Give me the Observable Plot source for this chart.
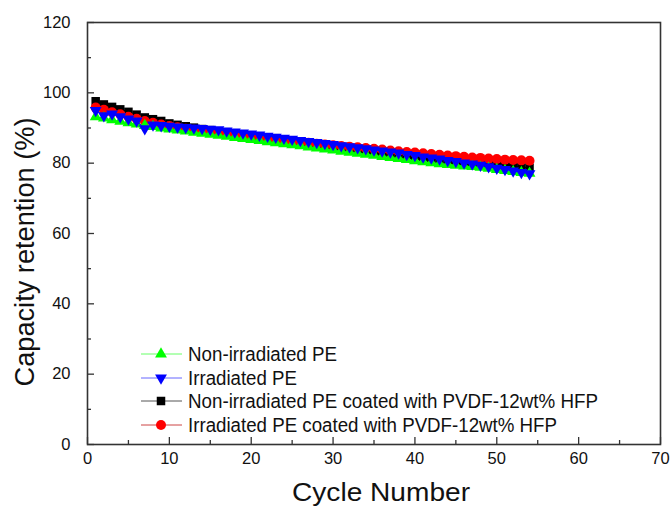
<!DOCTYPE html>
<html>
<head>
<meta charset="utf-8">
<script src="https://cdn.jsdelivr.net/npm/d3@7"></script>
<script src="https://cdn.jsdelivr.net/npm/@observablehq/plot@0.6"></script>
<style>
  html, body { margin: 0; padding: 0; background: #fff; }
  #chart { width: 670px; height: 506px; }
  svg { font-family: Arial, "Liberation Sans", sans-serif; }
</style>
</head>
<body>
<div id="chart"></div>
<script>
// ---- data ----
const cycles = d3.range(1, 55); // cycle numbers 1..54
const seriesNames = [
  "Non-irradiated PE",
  "Irradiated PE",
  "Non-irradiated PE coated with PVDF-12wt% HFP",
  "Irradiated PE coated with PVDF-12wt% HFP"
];
const seriesColors = ["#00ff00", "#0000ff", "#000000", "#ff0000"];
const greenValues = [93.2, 92.8, 92.3, 91.9, 91.5, 91.1, 90.7, 90.4, 90.0, 89.7,
  89.4, 89.1, 88.8, 88.5, 88.2, 87.9, 87.6, 87.3, 87.0, 86.7,
  86.4, 86.1, 85.8, 85.5, 85.2, 84.9, 84.6, 84.3, 84.0, 83.7,
  83.4, 83.1, 82.8, 82.5, 82.2, 81.9, 81.6, 81.3, 81.0, 80.7,
  80.4, 80.1, 79.8, 79.6, 79.4, 79.2, 79.0, 78.8, 78.5, 78.2,
  77.9, 77.6, 77.3, 77.1];
const blueValues = [95.0, 93.5, 94.0, 93.2, 92.6, 92.0, 89.8, 90.9, 90.7, 90.5,
  90.3, 90.2, 90.0, 89.9, 89.7, 89.5, 89.2, 88.9, 88.6, 88.3,
  88.0, 87.7, 87.4, 87.1, 86.8, 86.5, 86.2, 85.9, 85.6, 85.3,
  85.0, 84.7, 84.4, 84.1, 83.8, 83.5, 83.2, 82.9, 82.5, 82.2,
  81.8, 81.5, 81.2, 80.8, 80.5, 80.1, 79.8, 79.4, 79.0, 78.6,
  78.2, 77.8, 77.4, 77.0];
const blackValues = [97.6, 96.7, 96.0, 95.3, 94.6, 93.8, 93.0, 92.5, 92.0, 91.3,
  90.9, 90.5, 90.1, 89.7, 89.4, 89.0, 88.8, 88.5, 88.2, 87.9,
  87.6, 87.3, 87.1, 86.8, 86.5, 86.2, 85.9, 85.6, 85.3, 85.0,
  84.7, 84.4, 84.1, 83.8, 83.5, 83.2, 82.9, 82.6, 82.3, 82.0,
  81.7, 81.5, 81.2, 80.9, 80.7, 80.4, 80.2, 80.0, 79.7, 79.5,
  79.3, 79.1, 78.9, 78.7];
const redValues = [95.8, 95.2, 94.5, 93.9, 93.2, 92.6, 92.0, 91.5, 91.0, 90.6,
  90.2, 89.8, 89.5, 89.2, 88.9, 88.6, 88.3, 88.0, 87.8, 87.5,
  87.3, 87.0, 86.8, 86.5, 86.3, 86.0, 85.8, 85.5, 85.3, 85.1,
  84.9, 84.7, 84.5, 84.3, 84.1, 83.9, 83.6, 83.4, 83.2, 83.0,
  82.8, 82.6, 82.4, 82.2, 82.0, 81.8, 81.6, 81.5, 81.3, 81.2,
  81.0, 80.9, 80.8, 80.7];
const xTicks = [0, 10, 20, 30, 40, 50, 60, 70];
const xMinorTicks = [5, 15, 25, 35, 45, 55, 65];
const yTicks = [0, 20, 40, 60, 80, 100, 120];
const yMinorTicks = [10, 30, 50, 70, 90, 110];
const xLabel = "Cycle Number";
const yLabel = "Capacity retention (%)";

// ---- build ----
const W = 670, H = 506, mL = 87, mR = 10, mT = 22, mB = 62;
const plotW = W - mL - mR, plotH = H - mT - mB;
const downTriangle = {
  draw(context, size) {
    const y = -Math.sqrt(size / (Math.sqrt(3) * 3));
    context.moveTo(0, -y * 2);
    context.lineTo(-Math.sqrt(3) * y, y);
    context.lineTo(Math.sqrt(3) * y, y);
    context.closePath();
  }
};
const seriesValues = [greenValues, blueValues, blackValues, redValues];
const seriesSymbols = ["triangle", downTriangle, "square", "circle"];
const seriesR = [4.4, 4.4, 4.8, 5];
const tables = seriesValues.map((vals, i) =>
  cycles.map((c, j) => ({x: c, y: vals[j], s: seriesNames[i]})));

// draw order: black, red, green, blue
const drawOrder = [2, 3, 0, 1];
const marks = [];
for (const i of drawOrder) {
  marks.push(Plot.line(tables[i], {x: "x", y: "y", stroke: seriesColors[i], strokeWidth: 1}));
  marks.push(Plot.dot(tables[i], {x: "x", y: "y", symbol: seriesSymbols[i], r: seriesR[i], fill: seriesColors[i], stroke: "none"}));
}

const chart = Plot.plot({
  width: W,
  height: H,
  marginLeft: mL,
  marginRight: mR,
  marginTop: mT,
  marginBottom: mB,
  style: {fontFamily: "Arial, 'Liberation Sans', sans-serif", background: "#fff", color: "#111"},
  x: {domain: [0, 70]},
  y: {domain: [0, 120]},
  marks: [
    ...marks,
    Plot.axisX({ticks: xTicks, tickSize: 0, tickPadding: 8, fontSize: 16.5, label: null}),
    Plot.axisY({ticks: yTicks, tickSize: 0, tickPadding: 17, fontSize: 16.5, label: null}),
    Plot.tickX(xTicks, {x: d => d, insetTop: plotH - 7, stroke: "#333", strokeWidth: 1.3}),
    Plot.tickX(xMinorTicks, {x: d => d, insetTop: plotH - 4, stroke: "#333", strokeWidth: 1.3}),
    Plot.tickY(yTicks, {y: d => d, insetRight: plotW - 7, stroke: "#333", strokeWidth: 1.3}),
    Plot.tickY(yMinorTicks, {y: d => d, insetRight: plotW - 4, stroke: "#333", strokeWidth: 1.3}),
    Plot.frame({stroke: "#333", strokeWidth: 1.6})
  ]
});

const svg = d3.select(chart);
// ---- axis titles ----
svg.append("text")
  .attr("x", 381).attr("y", 501)
  .attr("text-anchor", "middle")
  .attr("font-size", 26).attr("fill", "#111")
  .attr("textLength", 178).attr("lengthAdjust", "spacingAndGlyphs")
  .text(xLabel);
svg.append("text")
  .attr("transform", `translate(34,252) rotate(-90)`)
  .attr("text-anchor", "middle")
  .attr("font-size", 27).attr("fill", "#111")
  .attr("textLength", 269).attr("lengthAdjust", "spacingAndGlyphs")
  .text(yLabel);

// ---- legend inside plot, bottom-left ----
const rowY = [354, 378, 401, 425];
const legendTextWidths = [149, 109, 410, 369];
const lineX0 = 141, lineX1 = 182, markX = 161, textX = 188;
const lineColors = ["#66ff66", "#6666ff", "#555555", "#cc4444"];
const g = svg.append("g").attr("class", "legend").attr("text-anchor", "start");
[0, 1, 2, 3].forEach((i, k) => {
  const row = g.append("g").attr("transform", `translate(0,${rowY[k]})`);
  row.append("line").attr("x1", lineX0).attr("x2", lineX1).attr("y1", 0).attr("y2", 0)
    .attr("stroke", lineColors[i]).attr("stroke-width", 1);
  let path;
  if (i === 1) { path = d3.path(); downTriangle.draw(path, Math.PI * seriesR[i] ** 2); }
  else {
    const t = i === 0 ? d3.symbolTriangle : i === 2 ? d3.symbolSquare : d3.symbolCircle;
    path = d3.symbol(t, Math.PI * seriesR[i] ** 2)();
  }
  row.append("path").attr("d", path.toString()).attr("transform", `translate(${markX},0)`)
    .attr("fill", seriesColors[i]);
  row.append("text").attr("x", textX).attr("y", 0).attr("dy", "0.35em")
    .attr("text-anchor", "start")
    .attr("font-size", 20).attr("fill", "#111")
    .attr("textLength", legendTextWidths[i])
    .attr("lengthAdjust", "spacingAndGlyphs")
    .text(seriesNames[i]);
});

document.getElementById("chart").appendChild(chart);
</script>
</body>
</html>
